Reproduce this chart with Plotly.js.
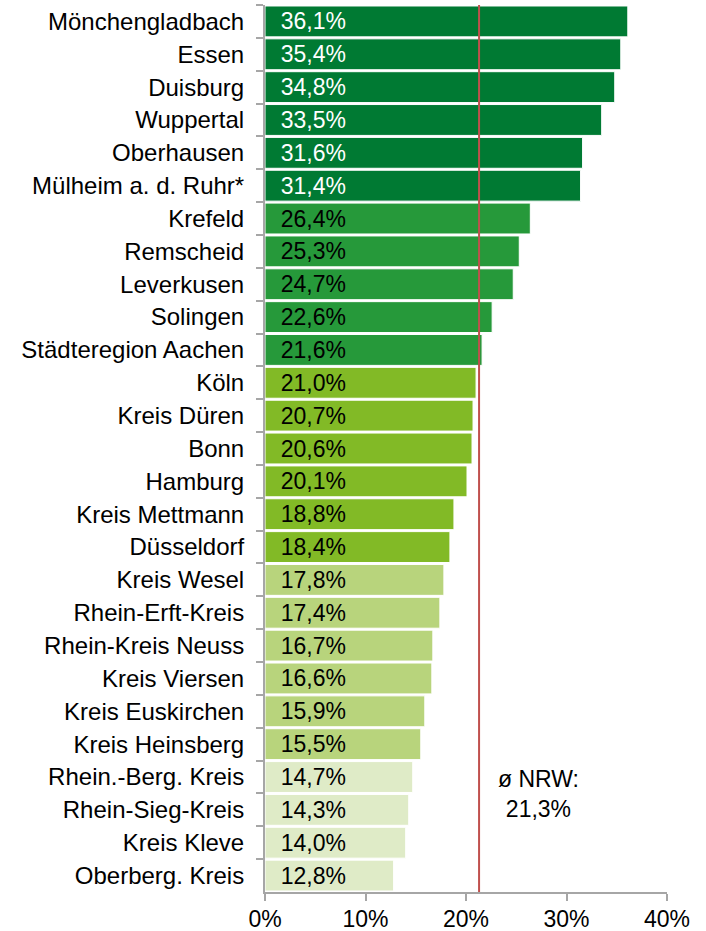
<!DOCTYPE html>
<html>
<head>
<meta charset="utf-8">
<script src="https://cdn.plot.ly/plotly-3.0.1.min.js"></script>
<style>html,body{margin:0;padding:0;background:#fff;}#chart{width:706px;height:931px;}</style>
</head>
<body>
<div id="chart"></div>
<script>
const regions = ["Mönchengladbach","Essen","Duisburg","Wuppertal","Oberhausen","Mülheim a. d. Ruhr*","Krefeld","Remscheid","Leverkusen","Solingen","Städteregion Aachen","Köln","Kreis Düren","Bonn","Hamburg","Kreis Mettmann","Düsseldorf","Kreis Wesel","Rhein-Erft-Kreis","Rhein-Kreis Neuss","Kreis Viersen","Kreis Euskirchen","Kreis Heinsberg","Rhein.-Berg. Kreis","Rhein-Sieg-Kreis","Kreis Kleve","Oberberg. Kreis"];
const shares = [36.1,35.4,34.8,33.5,31.6,31.4,26.4,25.3,24.7,22.6,21.6,21.0,20.7,20.6,20.1,18.8,18.4,17.8,17.4,16.7,16.6,15.9,15.5,14.7,14.3,14.0,12.8];
const groups = [0,0,0,0,0,0,1,1,1,1,1,2,2,2,2,2,2,3,3,3,3,3,3,4,4,4,4];
const nrwAverage = 21.3;
const nrwLabel = "ø NRW:<br>21,3%";
const xTicks = [0,10,20,30,40];
const xTickLabels = ["0%","10%","20%","30%","40%"];

const groupColors = ["#007A33","#26993A","#82BA26","#B8D47C","#DFEBC7"];
const groupText = ["#FFFFFF","#000000","#000000","#000000","#000000"];
const FONT = "Liberation Sans, Arial, sans-serif";

const trace = {
  type: "bar",
  orientation: "h",
  y: regions,
  x: shares,
  marker: {color: groups.map(g => groupColors[g]), line: {color: "#FFFFFF", width: 1}},
  texttemplate: "\u00a0\u00a0%{x:.1f}%",
  textposition: "inside",
  insidetextanchor: "start",
  textangle: 0,
  constraintext: "none",
  textfont: {family: FONT, size: 23, color: groups.map(g => groupText[g])},
  hoverinfo: "none",
  cliponaxis: false
};

const layout = {
  width: 706, height: 931,
  margin: {l: 265, r: 39, t: 5, b: 39, pad: 0},
  paper_bgcolor: "#FFFFFF", plot_bgcolor: "#FFFFFF",
  separators: ",.",
  showlegend: false,
  bargap: 0.06,
  font: {family: FONT, size: 23, color: "#000000"},
  xaxis: {
    range: [0, 40], tickmode: "array", tickvals: xTicks, ticktext: xTickLabels,
    showgrid: false, zeroline: false,
    showline: true, linecolor: "#A6A6A6", linewidth: 2,
    ticks: "outside", ticklen: 7, tickwidth: 2, tickcolor: "#A6A6A6",
    ticklabelstandoff: -2,
    tickfont: {family: FONT, size: 23, color: "#000000"},
    fixedrange: true
  },
  yaxis: {
    type: "category", autorange: "reversed",
    showgrid: false, zeroline: false,
    showline: true, linecolor: "#A6A6A6", linewidth: 2,
    ticks: "outside", ticklen: 7, tickwidth: 2, tickcolor: "#A6A6A6",
    tickson: "boundaries",
    ticklabelstandoff: 14,
    tickfont: {family: FONT, size: 24, color: "#000000"},
    fixedrange: true
  },
  shapes: [{
    type: "line", xref: "x", yref: "paper",
    x0: nrwAverage, x1: nrwAverage, y0: 0, y1: 1,
    line: {color: "#C0504D", width: 2}
  }],
  annotations: [{
    xref: "x", yref: "paper", x: 27.2, y: 0.077,
    text: nrwLabel, showarrow: false, align: "center",
    font: {family: FONT, size: 23, color: "#000000"}
  }]
};

Plotly.newPlot("chart", [trace], layout, {displayModeBar: false, staticPlot: true});
</script>
</body>
</html>
